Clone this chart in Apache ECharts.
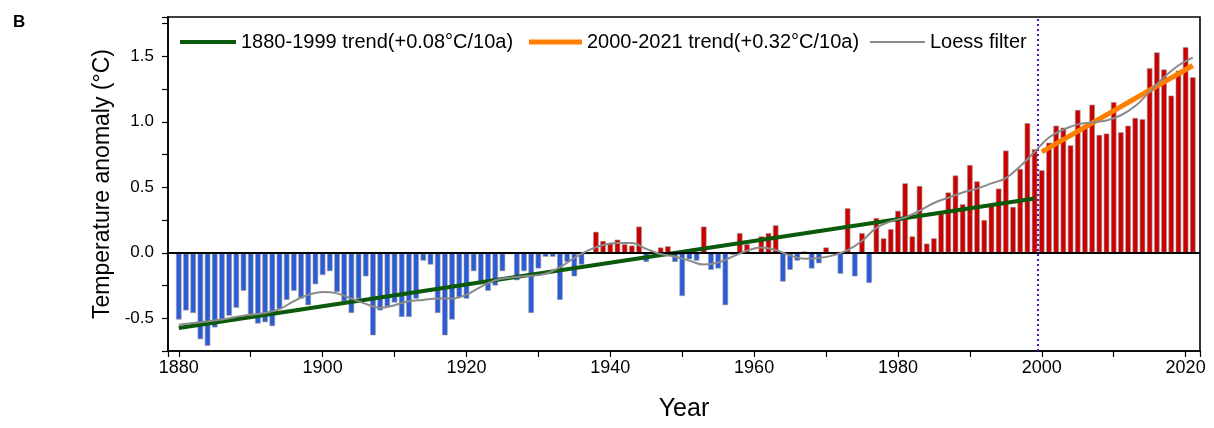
<!DOCTYPE html>
<html><head><meta charset="utf-8">
<script src="https://cdn.jsdelivr.net/npm/echarts@6/dist/echarts.min.js"></script>
<style>html,body{margin:0;padding:0;background:#fff}#c{width:1214px;height:428px}</style>
</head><body><div id="c"></div>
<script>
const startYear = 1880;
const anomalies = [
 -0.51,-0.44,-0.46,-0.66,-0.71,-0.57,-0.51,-0.48,-0.42,-0.29,
 -0.47,-0.54,-0.53,-0.56,-0.43,-0.36,-0.29,-0.35,-0.40,-0.24,
 -0.17,-0.14,-0.30,-0.37,-0.46,-0.35,-0.18,-0.63,-0.44,-0.41,
 -0.38,-0.49,-0.49,-0.35,-0.06,-0.09,-0.46,-0.63,-0.51,-0.34,
 -0.35,-0.14,-0.22,-0.29,-0.25,-0.14,-0.01,-0.21,-0.14,-0.46,
 -0.12,-0.03,-0.03,-0.36,-0.07,-0.18,-0.09,-0.01,0.16,0.09,
 0.075,0.10,0.065,0.055,0.20,-0.07,-0.01,0.04,0.05,-0.07,
 -0.33,-0.05,-0.06,0.20,-0.13,-0.12,-0.40,-0.015,0.15,0.065,
 -0.01,0.125,0.15,0.21,-0.22,-0.13,-0.06,0.01,-0.12,-0.08,
 0.04,-0.01,-0.16,0.34,-0.18,0.15,-0.23,0.265,0.11,0.18,
 0.32,0.53,0.125,0.51,0.07,0.11,0.30,0.46,0.59,0.37,
 0.67,0.545,0.25,0.36,0.49,0.78,0.35,0.64,0.99,0.79,
 0.63,0.84,0.97,0.955,0.82,1.09,0.97,1.13,0.90,0.91,
 1.15,0.92,0.97,1.03,1.02,1.41,1.53,1.40,1.20,1.39,
 1.57,1.34
];
const years = anomalies.map((_, i) => startYear + i);

const trendEarlyYears = [1880, 1999];
const trendEarlyValues = [-0.575, 0.415];
const trendLateYears = [2000, 2021];
const trendLateValues = [0.77, 1.43];

const loessYears = [1880,1883,1886,1889,1892,1894,1896,1898,1900,1902,1904,1906,1908,1910,1912,1914,1916,1918,1920,1922,1924,1926,1928,1931,1933,1935,1937,1939,1941,1943,1945,1947,1949,1951,1953,1955,1957,1959,1961,1963,1965,1967,1969,1971,1973,1975,1977,1979,1981,1983,1985,1987,1989,1991,1993,1995,1997,1999,2001,2003,2005,2007,2009,2011,2013,2015,2017,2019,2021];
const loessValues = [-0.55,-0.53,-0.51,-0.48,-0.46,-0.43,-0.37,-0.32,-0.30,-0.31,-0.35,-0.39,-0.42,-0.40,-0.37,-0.36,-0.35,-0.35,-0.32,-0.26,-0.21,-0.19,-0.18,-0.16,-0.11,-0.04,0.02,0.06,0.075,0.075,0.03,-0.01,-0.03,-0.06,-0.09,-0.075,-0.03,0.015,0.04,0.02,-0.02,-0.045,-0.04,-0.02,0.02,0.09,0.19,0.24,0.27,0.32,0.38,0.42,0.46,0.49,0.53,0.57,0.66,0.77,0.88,0.94,0.98,0.995,1.01,1.05,1.12,1.23,1.34,1.43,1.49];

const splitYear = 1999.5;
const names = ['1880-1999 trend(+0.08°C/10a)', '2000-2021 trend(+0.32°C/10a)', 'Loess filter'];

const FONT = "'Liberation Sans', Arial, sans-serif";

const chart = echarts.init(document.getElementById('c'), null, {renderer: 'canvas'});
const legendBase = {
  orient: 'horizontal', padding: 0, icon: 'rect', selectedMode: false,
  textStyle: {fontSize: 20, fontFamily: FONT, color: '#000'}
};
chart.setOption({
  animation: false,
  backgroundColor: '#fff',
  title: {text: 'B', left: 8, top: 9, textStyle: {fontSize: 17, fontWeight: 'bold', fontFamily: FONT, color: '#000'}},
  grid: {left: 168, right: 14, top: 17, bottom: 77, show: true, borderColor: '#000', borderWidth: 1.6, backgroundColor: 'transparent'},
  legend: [
    Object.assign({}, legendBase, {data: [names[0]], left: 180, top: 32, itemWidth: 56, itemHeight: 4}),
    Object.assign({}, legendBase, {data: [names[1]], left: 529, top: 32, itemWidth: 53, itemHeight: 5}),
    Object.assign({}, legendBase, {data: [names[2]], left: 870, top: 32, itemWidth: 55, itemHeight: 2})
  ],
  xAxis: {
    type: 'value', min: 1878.5, max: 2022, splitNumber: 7,
    axisLine: {show: true, onZero: false, lineStyle: {color: '#000', width: 1.6}},
    axisTick: {show: true, length: 6, lineStyle: {color: '#000', width: 1.2}},
    minorTick: {show: true, splitNumber: 2, length: 6, lineStyle: {color: '#000', width: 1.2}},
    splitLine: {show: false},
    axisLabel: {
      showMinLabel: false, showMaxLabel: false, margin: 8,
      fontSize: 18, fontFamily: FONT, color: '#000',
      formatter: v => (Math.abs(v % 20) < 1e-9 ? String(v) : '')
    },
    name: 'Year', nameLocation: 'middle', nameGap: 46,
    nameTextStyle: {fontSize: 25, fontFamily: FONT, color: '#000'}
  },
  yAxis: {
    type: 'value', min: -0.75, max: 1.8, splitNumber: 5,
    axisLine: {show: true, onZero: false, lineStyle: {color: '#000', width: 1.6}},
    axisTick: {show: true, length: 6, lineStyle: {color: '#000', width: 1.2}},
    minorTick: {show: true, splitNumber: 2, length: 6, lineStyle: {color: '#000', width: 1.2}},
    splitLine: {show: false},
    axisLabel: {
      showMinLabel: false, showMaxLabel: false, margin: 14,
      fontSize: 17, fontFamily: FONT, color: '#000',
      formatter: v => (Math.abs(v * 2 - Math.round(v * 2)) < 1e-9 ? v.toFixed(1) : '')
    },
    name: 'Temperature anomaly (°C)', nameLocation: 'middle', nameGap: 53,
    nameTextStyle: {fontSize: 23, fontFamily: FONT, color: '#000'}
  },
  series: [
    {
      name: 'Anomaly', type: 'bar', barWidth: 5.5, z: 2,
      data: years.map((y, i) => [y, anomalies[i]]),
      itemStyle: {
        color: p => (p.value[1] >= 0 ? '#cc0000' : '#2b5bd6'),
        borderColor: '#9a9a9a', borderWidth: 0.6
      },
      markLine: {
        silent: true, symbol: ['none', 'none'], label: {show: false}, animation: false,
        data: [
          {yAxis: 0, lineStyle: {color: '#000', width: 1.8, type: 'solid'}},
          {xAxis: splitYear, lineStyle: {color: '#5218b0', width: 2, type: [2, 3]}}
        ]
      }
    },
    {
      name: names[0], type: 'line', z: 4, symbol: 'none', color: '#0b5a0b',
      lineStyle: {width: 4, color: '#0b5a0b'},
      data: trendEarlyYears.map((y, i) => [y, trendEarlyValues[i]])
    },
    {
      name: names[1], type: 'line', z: 4, symbol: 'none', color: '#ff8000',
      lineStyle: {width: 5, color: '#ff8000'},
      data: trendLateYears.map((y, i) => [y, trendLateValues[i]])
    },
    {
      name: names[2], type: 'line', z: 5, symbol: 'none', smooth: 0.4, color: '#8a8a8a',
      lineStyle: {width: 2, color: '#8a8a8a'},
      data: loessYears.map((y, i) => [y, loessValues[i]])
    }
  ]
});
</script></body></html>
